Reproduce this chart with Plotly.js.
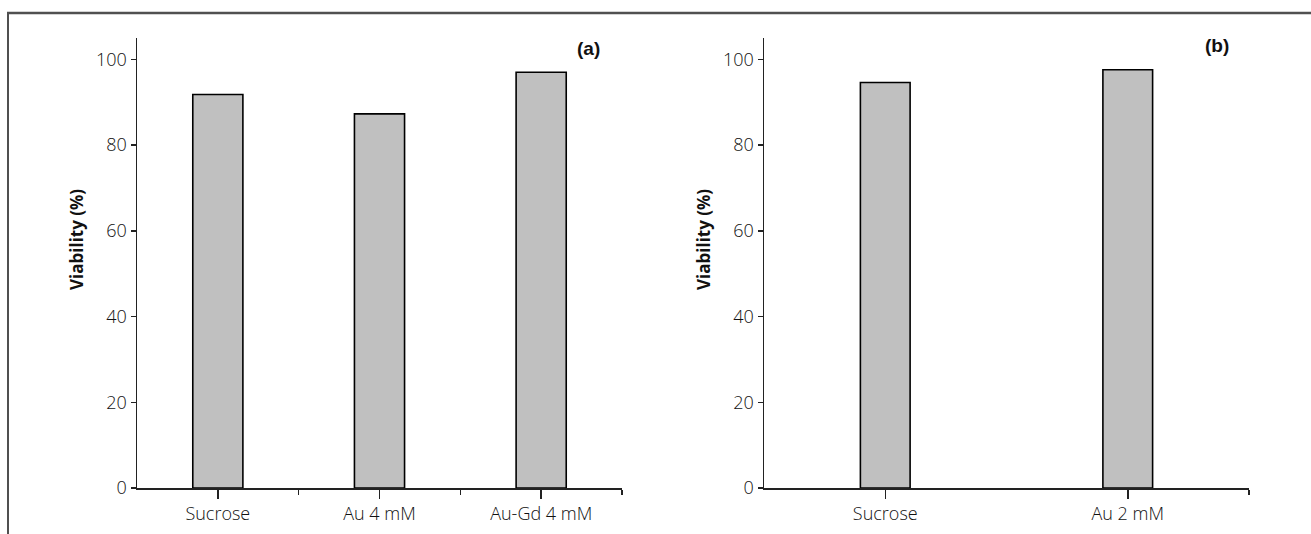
<!DOCTYPE html>
<html>
<head>
<meta charset="utf-8">
<script src="https://cdn.plot.ly/plotly-3.0.1.min.js"></script>
<style>html,body{margin:0;padding:0;background:#fff;}#chart{width:1311px;height:534px;}</style>
</head>
<body>
<div id="chart"></div>
<script>
// Panel (a)
var catsA = ['Sucrose', 'Au 4 mM', 'Au-Gd 4 mM'];
var valsA = [91.8, 87.3, 97.0];
// Panel (b)
var catsB = ['Sucrose', 'Au 2 mM'];
var valsB = [94.6, 97.6];
// y ticks
var yTicks = [0, 20, 40, 60, 80, 100];
var yTitle = 'Viability (%)';
var panelLabels = ['(a)', '(b)'];

var W = 1311, H = 534;
function px(x) { return x / W; }
function py(y) { return 1 - y / H; }

var tickFont = {family: 'Open Sans, sans-serif', size: 18, color: '#111111', weight: 300};
var barStyle = {color: '#c0c0c0', line: {color: '#000000', width: 1.6}};
var titleFont = {family: 'Open Sans, sans-serif', size: 17, color: '#111', weight: 'bold'};
var panelFont = {family: 'Liberation Sans, sans-serif', size: 19, color: '#111', weight: 'bold'};

var traces = [
  {type: 'bar', x: catsA.map(function (c, i) { return i; }), y: valsA, width: 0.31,
   marker: barStyle, xaxis: 'x', yaxis: 'y', hoverinfo: 'skip', showlegend: false},
  {type: 'bar', x: catsB.map(function (c, i) { return i; }), y: valsB, width: 0.205,
   marker: barStyle, xaxis: 'x2', yaxis: 'y2', hoverinfo: 'skip', showlegend: false}
];

function xAxis(cats, domain, anchor, minorVals) {
  return {
    domain: domain, anchor: anchor, type: 'linear',
    range: [-0.5, cats.length - 0.5],
    tickmode: 'array', tickvals: cats.map(function (c, i) { return i; }), ticktext: cats,
    ticks: 'outside', ticklen: 9, tickwidth: 1.5, tickcolor: '#222',
    showline: true, linecolor: '#222', linewidth: 1.5,
    showgrid: false, zeroline: false, tickfont: tickFont, fixedrange: true,
    minor: {tickmode: 'array', tickvals: minorVals, ticks: 'outside', ticklen: 5, tickwidth: 1.5, tickcolor: '#222', showgrid: false}
  };
}
function yAxis(anchor) {
  return {
    domain: [py(488), py(38)], anchor: anchor, range: [0, 105],
    tickmode: 'array', tickvals: yTicks,
    ticks: 'outside', ticklen: 5, tickwidth: 1.5, tickcolor: '#222',
    showline: true, linecolor: '#222', linewidth: 1.5,
    showgrid: false, zeroline: false, tickfont: tickFont, fixedrange: true
  };
}

var layout = {
  width: W, height: H,
  margin: {l: 0, r: 0, t: 0, b: 0},
  paper_bgcolor: '#ffffff', plot_bgcolor: '#ffffff',
  showlegend: false,
  xaxis: xAxis(catsA, [px(137), px(622)], 'y', [0.5, 1.5, 2.5]),
  yaxis: yAxis('x'),
  xaxis2: xAxis(catsB, [px(764), px(1249)], 'y2', [1.5]),
  yaxis2: yAxis('x2'),
  bargap: 0,
  annotations: [
    {text: yTitle, xref: 'paper', yref: 'paper', x: px(76), y: py(240), textangle: -90,
     xanchor: 'center', yanchor: 'middle', showarrow: false, font: titleFont},
    {text: yTitle, xref: 'paper', yref: 'paper', x: px(703), y: py(240), textangle: -90,
     xanchor: 'center', yanchor: 'middle', showarrow: false, font: titleFont},
    {text: panelLabels[0], xref: 'paper', yref: 'paper', x: px(588), y: py(48),
     xanchor: 'center', yanchor: 'middle', showarrow: false, font: panelFont},
    {text: panelLabels[1], xref: 'paper', yref: 'paper', x: px(1217), y: py(46),
     xanchor: 'center', yanchor: 'middle', showarrow: false, font: panelFont}
  ],
  shapes: [
    {type: 'line', xref: 'paper', yref: 'paper', x0: px(7), x1: 1, y0: py(13), y1: py(13),
     line: {color: '#505050', width: 2.5}},
    {type: 'line', xref: 'paper', yref: 'paper', x0: px(8), x1: px(8), y0: py(12), y1: 0,
     line: {color: '#505050', width: 2}}
  ]
};

Plotly.newPlot('chart', traces, layout, {displayModeBar: false, staticPlot: true});
</script>
</body>
</html>
